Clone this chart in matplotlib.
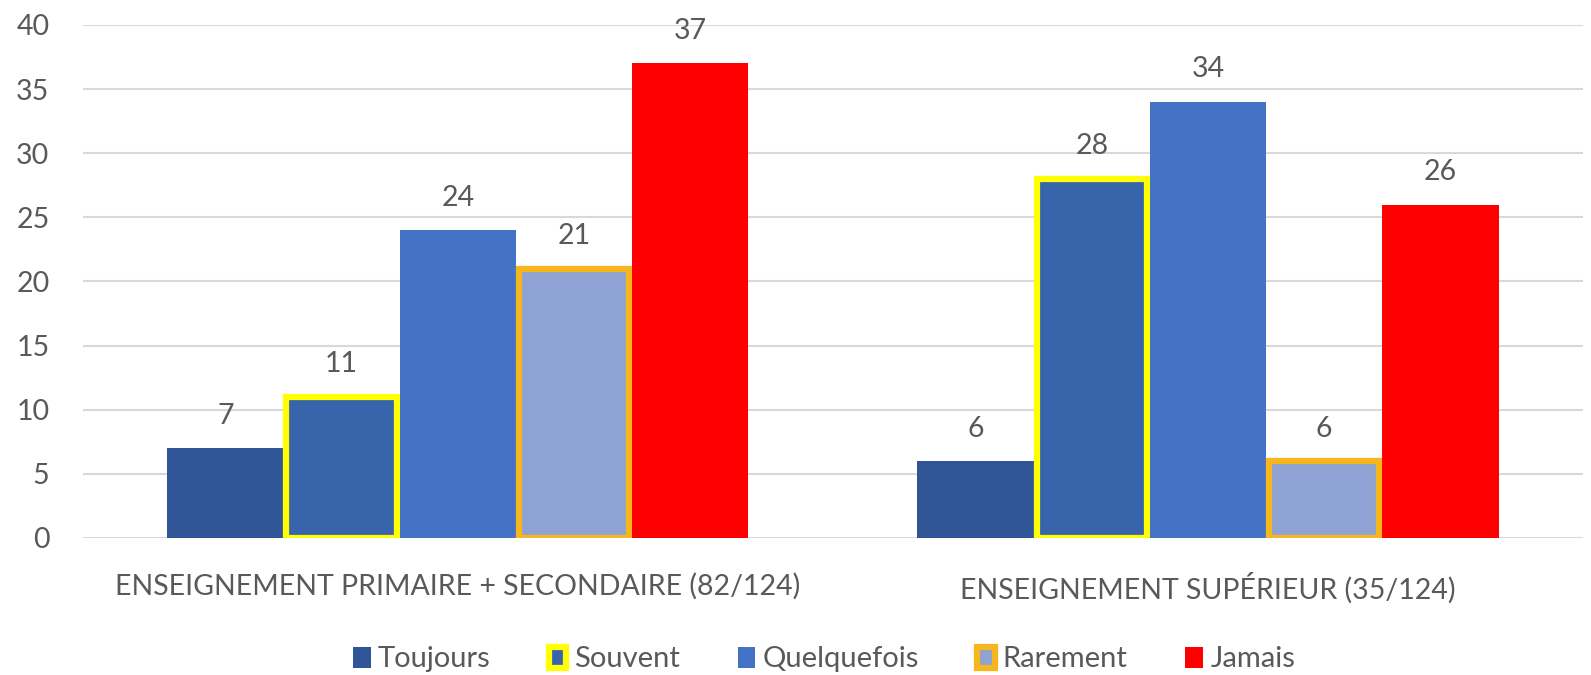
import matplotlib
matplotlib.use("Agg")
import matplotlib.pyplot as plt
import numpy as np

categories = ["ENSEIGNEMENT PRIMAIRE + SECONDAIRE (82/124)", "ENSEIGNEMENT SUPÉRIEUR (35/124)"]
series_names = ["Toujours", "Souvent", "Quelquefois", "Rarement", "Jamais"]
values = {
    "Toujours": [7, 6],
    "Souvent": [11, 28],
    "Quelquefois": [24, 34],
    "Rarement": [21, 6],
    "Jamais": [37, 26],
}
fill_colors = ["#2F5597", "#3864AC", "#4472C4", "#8EA2D3", "#FF0000"]
edge_colors = [None, "#FFFF00", None, "#F7B51E", None]
yticks = [0, 5, 10, 15, 20, 25, 30, 35, 40]

plt.rcParams['font.family'] = ['Lato', 'DejaVu Sans']
text_color = "#595959"

fig = plt.figure(figsize=(15.91, 6.75), dpi=100)
ax = fig.add_axes([0.052, 0.203, 0.943, 0.760])

x = np.arange(len(categories))
w = 0.155
for i, name in enumerate(series_names):
    pos = x + (i - 2) * w
    ec = edge_colors[i]
    if ec is None:
        bars = ax.bar(pos, values[name], width=w, color=fill_colors[i], label=name, zorder=3)
    else:
        bars = ax.bar(pos, values[name], width=w - 0.008, color=fill_colors[i], edgecolor=ec,
                      linewidth=4.5, label=name, zorder=3)
    for b, v in zip(bars, values[name]):
        ax.annotate(str(v), (b.get_x() + b.get_width() / 2, v), xytext=(0, 14),
                    textcoords="offset points", ha="center", va="bottom",
                    fontsize=20.5, color=text_color)

ax.set_xlim(-0.5, 1.5)
ax.set_ylim(0, 40)
ax.set_yticks(yticks)
ax.set_xticks(x)
ax.set_xticklabels(categories)
ax.tick_params(axis="both", length=0, labelsize=20.5, colors=text_color)
ax.tick_params(axis="y", pad=24)
ax.tick_params(axis="x", pad=25)
ax.grid(axis="y", color="#D9D9D9", linewidth=1.5, zorder=0)
for s in ax.spines.values():
    s.set_visible(False)

leg = fig.legend(loc="lower center", bbox_to_anchor=(0.518, -0.035), ncol=5, frameon=False,
                 fontsize=21, handlelength=0.6, handleheight=0.75, handletextpad=0.25,
                 columnspacing=2.0, labelcolor=text_color)

fig.savefig("out.png", dpi=100)
